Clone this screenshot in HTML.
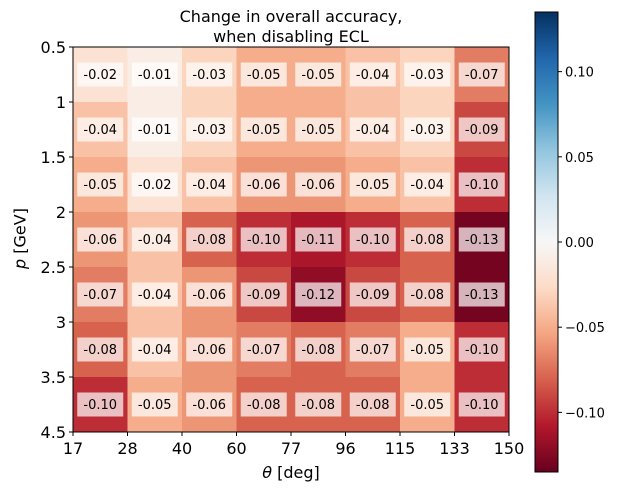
<!DOCTYPE html>
<html><head><meta charset="utf-8"><style>
body{margin:0;background:#fff;font-family:"Liberation Sans","DejaVu Sans",sans-serif}
svg text{font-family:"DejaVu Sans","Liberation Sans",sans-serif}
</style></head><body>
<svg id="c" width="619" height="498"></svg>
<script>
const xTicks=["17","28","40","60","77","96","115","133","150"];
const yTicks=["0.5","1","1.5","2","2.5","3","3.5","4.5"];
const row0=[-0.02,-0.01,-0.03,-0.05,-0.05,-0.04,-0.03,-0.07];
const row1=[-0.04,-0.01,-0.03,-0.05,-0.05,-0.04,-0.03,-0.09];
const row2=[-0.05,-0.02,-0.04,-0.06,-0.06,-0.05,-0.04,-0.10];
const row3=[-0.06,-0.04,-0.08,-0.10,-0.11,-0.10,-0.08,-0.13];
const row4=[-0.07,-0.04,-0.06,-0.09,-0.12,-0.09,-0.08,-0.13];
const row5=[-0.08,-0.04,-0.06,-0.07,-0.08,-0.07,-0.05,-0.10];
const row6=[-0.10,-0.05,-0.06,-0.08,-0.08,-0.08,-0.05,-0.10];
const rows=[row0,row1,row2,row3,row4,row5,row6];
const cbTicks=[0.10,0.05,0.00,-0.05,-0.10];
const vmin=-0.135,vmax=0.135;
const stops=["#67001f","#b2182b","#d6604d","#f4a582","#fddbc7","#f7f7f7","#d1e5f0","#92c5de","#4393c3","#2166ac","#053061"];
function hex(h){return [1,3,5].map(i=>parseInt(h.substr(i,2),16));}
function cmap(v){let t=(v-vmin)/(vmax-vmin);t=Math.max(0,Math.min(1,t));const p=t*(stops.length-1);const i=Math.min(Math.floor(p),stops.length-2);const f=p-i;const a=hex(stops[i]),b=hex(stops[i+1]);return `rgb(${a.map((x,k)=>Math.round(x+(b[k]-x)*f)).join(",")})`;}
const svg=document.getElementById('c');const NS="http://www.w3.org/2000/svg";
function el(t,at,p){const e=document.createElementNS(NS,t);for(const k in at)e.setAttribute(k,at[k]);(p||svg).appendChild(e);return e;}
const X0=73,X1=509,Y0=47,Y1=432;
const nc=8,nr=rows.length;const cw=(X1-X0)/nc,rh=(Y1-Y0)/nr;
const xs=i=>X0+i*cw, ys=j=>Y0+j*rh;
rows.forEach((r,j)=>r.forEach((v,i)=>{
 const c=el('rect',{x:xs(i),y:ys(j),width:cw+0.5,height:rh+0.5,fill:cmap(v)});
 
 
 const cx=xs(i)+cw/2,cy=ys(j)+rh/2;
 const b=el('rect',{x:cx-23,y:cy-12,width:46,height:24,fill:'#fff','fill-opacity':0.7});
 
 
 const t=el('text',{x:cx,y:cy+4.5,'text-anchor':'middle','font-size':13,fill:'#000'});
 t.textContent=v.toFixed(2);
 
 
}));
el('rect',{x:X0,y:Y0,width:X1-X0,height:Y1-Y0,fill:'none',stroke:'#000','stroke-width':1});
xTicks.forEach((s,i)=>{const x=X0+i*cw;el('line',{x1:x,x2:x,y1:Y1,y2:Y1+4,stroke:'#000'});
 const t=el('text',{x:x,y:Y1+22,'text-anchor':'middle','font-size':16});t.textContent=s;
 });
yTicks.forEach((s,j)=>{const y=Y0+j*rh;el('line',{x1:X0-4,x2:X0,y1:y,y2:y,stroke:'#000'});
 const t=el('text',{x:X0-7,y:y+6,'text-anchor':'end','font-size':16});t.textContent=s;
 });
const CX=535,CW=23,CY0=12,CY1=472;
const defs=el('defs',{});const g=el('linearGradient',{id:'g',x1:0,y1:1,x2:0,y2:0},defs);
stops.forEach((s,i)=>el('stop',{offset:i/(stops.length-1),'stop-color':s},g));
const cb=el('rect',{x:CX,y:CY0,width:CW,height:CY1-CY0,fill:'url(#g)',stroke:'#000','stroke-width':1});

const cy=v=>CY0+(vmax-v)/(vmax-vmin)*(CY1-CY0);
cbTicks.forEach(v=>{const y=cy(v);el('line',{x1:CX+CW,x2:CX+CW+4,y1:y,y2:y,stroke:'#000'});
 const t=el('text',{x:CX+CW+7,y:y+5,'font-size':13});t.textContent=(v<0?'\u2212':'')+Math.abs(v).toFixed(2);
 });
</script>
<div style="position:absolute;left:73px;width:436px;top:7px;text-align:center;font-family:'DejaVu Sans','Liberation Sans',sans-serif;font-size:16px;line-height:20px">Change in overall accuracy,<br>when disabling ECL</div>
<div style="position:absolute;left:73px;width:436px;top:463px;text-align:center;font-family:'DejaVu Sans',sans-serif;font-size:16px"><i>θ</i> [deg]</div>
<div style="position:absolute;left:-20px;top:229px;width:80px;text-align:center;transform:rotate(-90deg);font-family:'DejaVu Sans',sans-serif;font-size:16px"><i>p</i> [GeV]</div>
</body></html>
